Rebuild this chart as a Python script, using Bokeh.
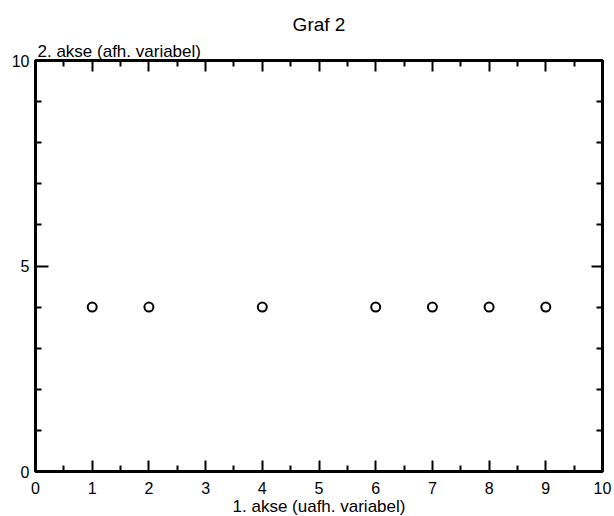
from bokeh.plotting import figure
from bokeh.models import LinearAxis, FixedTicker, Title, Range1d
from bokeh.embed import file_html
from bokeh.resources import INLINE

# data
x_vals = [1, 2, 4, 6, 7, 8, 9]
y_vals = [4, 4, 4, 4, 4, 4, 4]
x_ticks = [0, 1, 2, 3, 4, 5, 6, 7, 8, 9, 10]
x_minor = [0.5, 1.5, 2.5, 3.5, 4.5, 5.5, 6.5, 7.5, 8.5, 9.5]
y_ticks = [0, 5, 10]
y_minor = [1, 2, 3, 4, 6, 7, 8, 9]
title_text = "Graf 2"
x_label = "1. akse (uafh. variabel)"
y_label = "2. akse (afh. variabel)"

FONT = "Liberation Sans"

p = figure(frame_width=567, frame_height=411, output_backend="svg",
           toolbar_location=None, x_axis_location=None, y_axis_location=None,
           x_range=Range1d(0, 10), y_range=Range1d(0, 10),
           min_border_left=35, min_border_top=60, min_border_right=12,
           min_border_bottom=45)
p.grid.visible = False
p.outline_line_color = "black"
p.outline_line_width = 3
p.outline_line_alpha = 1
p.background_fill_color = "white"
p.border_fill_color = "white"

p.title.text = title_text
p.title.align = "center"
p.title.text_font = FONT
p.title.text_font_size = "19px"
p.title.text_font_style = "normal"
p.title.text_color = "black"
p.title.standoff = 10


def style(ax, major_in, minor_in, show_labels):
    ax.axis_line_color = None
    ax.major_tick_in = major_in
    ax.major_tick_out = 0
    ax.minor_tick_in = minor_in
    ax.minor_tick_out = 0
    ax.major_tick_line_width = 2
    ax.minor_tick_line_width = 2
    ax.major_tick_line_color = "black"
    ax.minor_tick_line_color = "black"
    if show_labels:
        ax.major_label_text_font = FONT
        ax.major_label_text_font_size = "16px"
        ax.major_label_text_color = "black"
        ax.major_label_standoff = 5
    else:
        ax.major_label_text_font_size = "0px"
        ax.major_label_standoff = 0
        ax.major_label_text_color = None


bottom = LinearAxis(ticker=FixedTicker(ticks=x_ticks, minor_ticks=x_minor))
style(bottom, 11, 6, True)
bottom.major_label_standoff = 10
bottom.axis_label = x_label
bottom.axis_label_text_font = FONT
bottom.axis_label_text_font_size = "17px"
bottom.axis_label_text_font_style = "normal"
bottom.axis_label_text_color = "black"
bottom.axis_label_standoff = 0
p.add_layout(bottom, "below")

top = LinearAxis(ticker=FixedTicker(ticks=x_ticks, minor_ticks=x_minor))
style(top, 11, 6, False)
p.add_layout(top, "above")

ytitle = Title(text=y_label, align="left", text_font=FONT,
               text_font_size="17px", text_font_style="normal",
               text_color="black", offset=2, standoff=0)
p.add_layout(ytitle, "above")

left = LinearAxis(ticker=FixedTicker(ticks=y_ticks, minor_ticks=y_minor))
style(left, 13, 6, True)
left.major_label_standoff = 6
p.add_layout(left, "left")

right = LinearAxis(ticker=FixedTicker(ticks=y_ticks, minor_ticks=y_minor))
style(right, 11, 6, False)
p.add_layout(right, "right")

p.scatter(x_vals, y_vals, marker="circle", size=9, line_color="black",
          line_width=2, fill_color="white")

open("out.html", "w").write(file_html(p, INLINE))
